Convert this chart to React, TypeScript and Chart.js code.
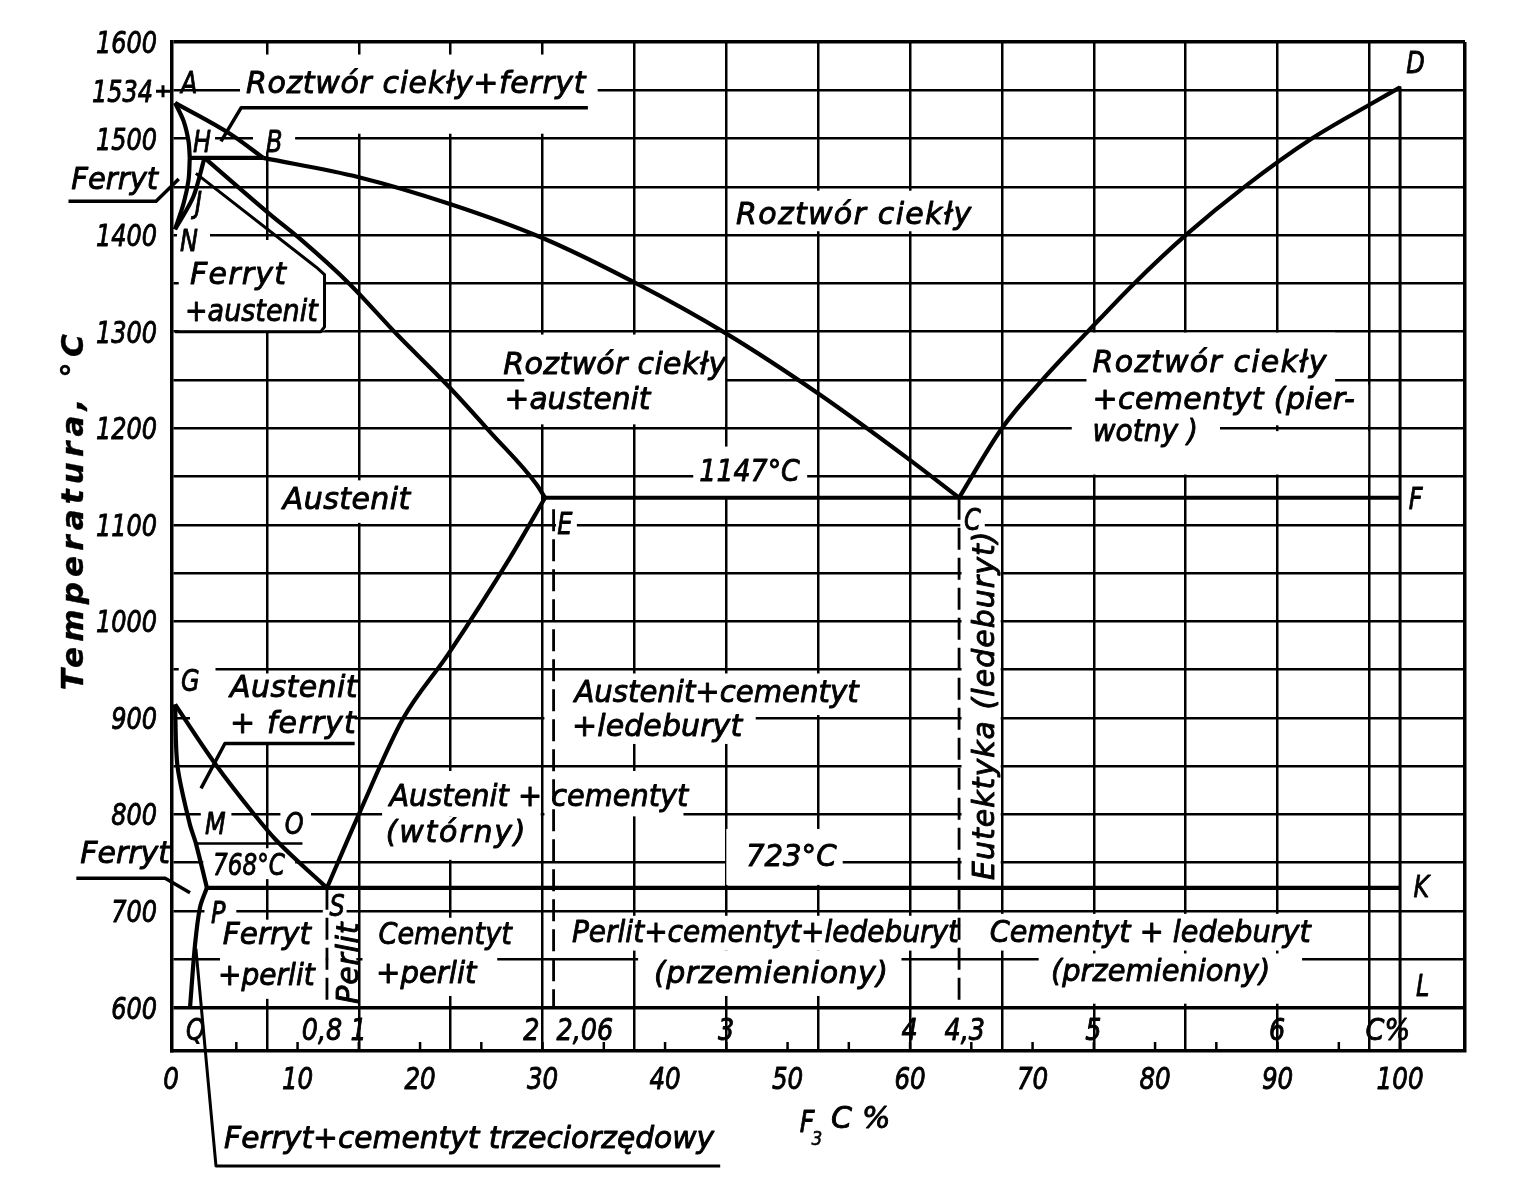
import React, { useEffect, useRef } from 'react';
import { Chart, registerables } from 'chart.js';

Chart.register(...registerables);

type Pt = [number, number];

// ---------- Phase boundaries: [Fe3C %, temperature °C] ----------
const liquidusAB: Pt[] = [[0, 1537], [4.6, 1504], [7.2, 1480]];
const liquidusBC: Pt[] = [[7.2, 1480], [15, 1460], [22.5, 1432], [30, 1397], [37.5, 1351], [45, 1298], [52.5, 1236], [60, 1167], [64, 1128]];
const liquidusCD: Pt[] = [[64, 1128], [67.5, 1200], [70.8, 1250], [74.5, 1300], [78.3, 1350], [82.5, 1400], [87.3, 1450], [92.8, 1500], [97.5, 1535], [100, 1553]];
const solidusAH: Pt[] = [[0, 1537], [0.7, 1518], [1.1, 1497], [1.2, 1480]];
const lineHN: Pt[] = [[1.2, 1480], [1.1, 1457], [0.7, 1433], [0, 1406]];
const lineJN: Pt[] = [[2.4, 1480], [1.5, 1440], [0, 1406]];
const peritecticHJB: Pt[] = [[1.2, 1480], [7.2, 1480]];
const solidusJE: Pt[] = [[2.4, 1480], [7.7, 1422], [10.4, 1394], [14.2, 1350], [18.2, 1296], [22.2, 1245], [25.8, 1195], [29.5, 1142], [30.2, 1128]];
const eutecticECF: Pt[] = [[30.2, 1128], [100, 1128]];
const lineSE: Pt[] = [[12.4, 724], [15.1, 803], [18.6, 899], [22.3, 966], [27.35, 1066], [30.2, 1128]];
const lineGS: Pt[] = [[0, 914], [3.3, 852], [6.4, 801], [8.2, 774], [12.4, 724]];
const lineGP: Pt[] = [[0, 914], [0.2, 850], [1.2, 790], [1.7, 770], [2.6, 724]];
const linePQ: Pt[] = [[2.6, 724], [2.04, 704], [1.63, 665], [1.22, 600]];
const eutectoidPSK: Pt[] = [[2.6, 724], [100, 724]];
const curieMO: Pt[] = [[1.7, 770], [10.4, 770]];
const lineDFKL: Pt[] = [[100, 1553], [100, 555]];
const dashedE: Pt[] = [[30.9, 1116], [30.9, 600]];
const dashedC: Pt[] = [[64, 1128], [64, 600]];
const dashedS: Pt[] = [[12.4, 724], [12.4, 600]];

// ---------- Axes ----------
const xTickValues = [0, 10, 20, 30, 40, 50, 60, 70, 80, 90, 100];
const yTickValues = [600, 700, 800, 900, 1000, 1100, 1200, 1300, 1400, 1500, 1600];
const gridXValues = [7.5, 15, 22.5, 30, 37.5, 45, 52.5, 60, 67.5, 75, 82.5, 90, 97.5];
const gridYValues = [600, 650, 700, 750, 800, 850, 900, 950, 1000, 1050, 1100, 1150, 1200, 1250, 1300, 1350, 1400, 1450, 1500, 1550, 1600];
const stripTickValues = [5, 10, 15, 20, 25, 30, 35, 40, 45, 50, 55, 60, 65, 70, 75, 80, 85, 90, 95, 100];
const carbonValues = [0.8, 1, 2, 2.06, 3, 4, 4.3, 5, 6];
const carbonLabels = ['0,8', '1', '2', '2,06', '3', '4', '4,3', '5', '6'];
const carbonAlign = ['center', 'center', 'right', 'left', 'center', 'center', 'center', 'center', 'center'];
const FE3C_PER_C = 100 / 6.67;

const X_MIN = -0.25;
const X_MAX = 105.3;
const Y_MIN = 555;
const Y_MAX = 1600;

// ---------- Annotation layout (data units) ----------
// white boxes behind region labels: [x1, x2, tLow, tHigh]
const maskRects: number[][] = [
  [5.3, 34.5, 1505, 1587], [1.14, 3.26, 1486, 1512], [6.36, 9.8, 1486, 1512], [0.16, 2.85, 1384, 1412],
  [45.4, 66.4, 1404, 1446], [28.5, 44.9, 1204, 1297], [42.3, 51.6, 1129, 1181], [8.4, 19.7, 1102, 1146],
  [31.1, 32.8, 1090, 1113], [64.1, 66.1, 1089, 1120],
  [74.4, 94.7, 1236, 1299], [74.4, 97.4, 1203, 1245], [73.2, 97.4, 1152, 1197], [73.2, 85.3, 1193, 1208],
  [64.2, 67.4, 727, 1098],
  [30.15, 56.6, 903, 946], [30.15, 47.4, 873, 905],
  [16.9, 29.85, 798, 845], [30.15, 41.5, 798, 845], [16.9, 29.85, 753, 798],
  [45.0, 54.5, 727, 785],
  [1.22, 14.66, 875, 946], [0.3, 3.3, 940, 958],
  [2.1, 4.6, 776, 806], [8.6, 11.1, 775, 804.5], [2.3, 9.8, 733, 765],
  [2.4, 5.0, 685, 711], [12.06, 14.0, 688, 715], [3.67, 12.3, 609, 691], [12.5, 14.8, 604, 696],
  [15.3, 27.9, 659, 693], [15.3, 26.3, 612, 662],
  [30.15, 63.7, 659, 695], [37.8, 59.3, 612, 659],
  [64.5, 93.4, 659, 697], [70.5, 92.0, 604, 656],
];
const calloutMask: Pt[] = [[0.3, 1395], [8.6, 1395], [11.5, 1367], [12.2, 1359], [12.2, 1301], [0.3, 1301]];

const leaders: { pts: Pt[]; w: number }[] = [
  { pts: [[33.7, 1532], [5.4, 1532], [3.75, 1497]], w: 3.5 },
  { pts: [[-8.7, 1435], [-1.55, 1435], [0.3, 1458]], w: 3.5 },
  { pts: [[1.7, 1464], [11.5, 1367], [12.2, 1359], [12.2, 1305], [11.9, 1300], [0, 1300]], w: 3 },
  { pts: [[14.66, 873.5], [4.07, 873.5], [2.12, 827]], w: 3.5 },
  { pts: [[-8.06, 734], [-0.81, 734], [1.22, 719]], w: 3.5 },
  { pts: [[1.7, 661], [3.34, 436], [44.5, 436]], w: 3 },
];

type Label = { t: string; x: number; x2?: number; y: number; y2?: number; rot?: boolean };
const labels: Label[] = [
  { t: 'A', x: 0.49, y: 1547.2 },
  { t: 'Roztwór ciekły+ferryt', x: 5.79, x2: 33.5, y: 1547.2 },
  { t: 'H', x: 1.47, y: 1485.9 },
  { t: 'B', x: 7.42, y: 1485.9 },
  { t: 'Ferryt', x: -8.47, x2: -1.38, y: 1448 },
  { t: 'J', x: 1.63, y: 1422.5 },
  { t: 'N', x: 0.41, y: 1383.7 },
  { t: 'Ferryt', x: 1.22, x2: 9.05, y: 1349.7 },
  { t: '+austenit', x: 0.81, x2: 11.65, y: 1311.4 },
  { t: 'Roztwór ciekły', x: 45.8, x2: 65.0, y: 1412 },
  { t: 'Roztwór ciekły', x: 26.8, x2: 45.0, y: 1256.6 },
  { t: '+austenit', x: 26.9, x2: 38.8, y: 1219.7 },
  { t: '1147°C', x: 42.8, x2: 51.0, y: 1145.6 },
  { t: 'Austenit', x: 8.8, x2: 19.2, y: 1116.6 },
  { t: 'E', x: 31.2, y: 1090.7 },
  { t: 'C', x: 64.4, y: 1094.4 },
  { t: 'F', x: 100.7, y: 1116.6 },
  { t: 'D', x: 100.5, y: 1567.6 },
  { t: 'Roztwór ciekły', x: 74.9, x2: 94.0, y: 1258.3 },
  { t: '+cementyt (pier-', x: 74.9, x2: 96.3, y: 1219.7 },
  { t: 'wotny )', x: 74.9, x2: 83.5, y: 1186.6 },
  { t: 'Eutektyka (ledeburyt)', x: 66.2, y: 732, y2: 1093, rot: true },
  { t: 'Austenit+cementyt', x: 32.6, x2: 55.8, y: 916.3 },
  { t: '+ledeburyt', x: 32.4, x2: 46.3, y: 881.4 },
  { t: 'Austenit + cementyt', x: 17.5, x2: 41.9, y: 808.75 },
  { t: '(wtórny)', x: 17.2, x2: 28.6, y: 771 },
  { t: '723°C', x: 46.6, x2: 54.0, y: 746.1 },
  { t: 'G', x: 0.49, y: 928.3 },
  { t: 'Austenit', x: 4.48, x2: 14.9, y: 922.1 },
  { t: '+ ferryt', x: 4.48, x2: 14.75, y: 884.6 },
  { t: 'M', x: 2.44, y: 779.8 },
  { t: 'O', x: 8.96, y: 779.8 },
  { t: '768°C', x: 3.1, x2: 8.96, y: 737.5 },
  { t: 'Ferryt', x: -7.74, x2: -0.41, y: 749.7 },
  { t: 'P', x: 2.93, y: 687.7 },
  { t: 'S', x: 12.6, y: 694.3 },
  { t: 'Ferryt', x: 3.9, x2: 11.1, y: 666 },
  { t: '+perlit', x: 3.5, x2: 11.4, y: 623.5 },
  { t: 'Perlit', x: 14.3, y: 604, y2: 688, rot: true },
  { t: 'Cementyt', x: 16.6, x2: 27.5, y: 666 },
  { t: '+perlit', x: 16.4, x2: 24.6, y: 625.4 },
  { t: 'Perlit+cementyt+ledeburyt', x: 32.4, x2: 64.0, y: 667.7 },
  { t: '(przemieniony)', x: 39.1, x2: 58.2, y: 625.4 },
  { t: 'Cementyt + ledeburyt', x: 66.5, x2: 92.7, y: 667.7 },
  { t: '(przemieniony)', x: 71.5, x2: 89.4, y: 627.4 },
  { t: 'K', x: 101.1, y: 714.9 },
  { t: 'L', x: 101.3, y: 611.5 },
  { t: 'Q', x: 0.9, y: 566.9 },
  { t: 'Ferryt+cementyt trzeciorzędowy', x: 4.0, x2: 44.0, y: 454.2 },
];

const FONT = 'italic 30px "DejaVu Sans"';
const LETTER_SX = 0.8;

function drawText(ctx: CanvasRenderingContext2D, text: string, x: number, y: number, o: any) {
  ctx.save();
  ctx.font = o.font || FONT;
  (ctx as any).letterSpacing = '0px';
  const nat = ctx.measureText(text).width;
  let sx = o.sx ?? 1;
  let ls = 0;
  if (o.target) {
    if (o.target >= nat) {
      ls = (o.target - nat) / Math.max(1, text.length - 1);
      sx = 1;
    } else {
      sx = o.target / nat;
    }
  }
  (ctx as any).letterSpacing = ls + 'px';
  const wu = nat + ls * (text.length - 1);
  ctx.translate(x, y);
  if (o.rot) ctx.rotate(o.rot);
  ctx.scale(sx, 1);
  ctx.textAlign = 'left';
  ctx.textBaseline = o.baseline || 'alphabetic';
  ctx.fillStyle = '#000';
  ctx.strokeStyle = '#000';
  ctx.lineWidth = o.stroke ?? 0.9;
  ctx.lineJoin = 'round';
  let dx = 0;
  if (o.align === 'center') dx = -wu / 2;
  else if (o.align === 'right') dx = -wu;
  ctx.fillText(text, dx, 0);
  if (ctx.lineWidth > 0) ctx.strokeText(text, dx, 0);
  ctx.restore();
}

const diagramPlugin = {
  id: 'ironCarbon',
  beforeDraw(chart: any) {
    const ctx = chart.ctx;
    ctx.save();
    ctx.fillStyle = '#fff';
    ctx.fillRect(0, 0, chart.width, chart.height);
    ctx.restore();
  },
  beforeDatasetsDraw(chart: any) {
    const ctx = chart.ctx as CanvasRenderingContext2D;
    const xs = chart.scales.x;
    const ys = chart.scales.y;
    ctx.save();
    ctx.fillStyle = '#fff';
    for (const [x1, x2, t1, t2] of maskRects) {
      const a = xs.getPixelForValue(x1);
      const b = xs.getPixelForValue(x2);
      const c = ys.getPixelForValue(t2);
      const d = ys.getPixelForValue(t1);
      ctx.fillRect(a, c, b - a, d - c);
    }
    ctx.beginPath();
    calloutMask.forEach(([x, t], i) => {
      const px = xs.getPixelForValue(x);
      const py = ys.getPixelForValue(t);
      if (i === 0) ctx.moveTo(px, py);
      else ctx.lineTo(px, py);
    });
    ctx.closePath();
    ctx.fill();
    ctx.restore();
  },
  afterDatasetsDraw(chart: any) {
    const ctx = chart.ctx as CanvasRenderingContext2D;
    const xs = chart.scales.x;
    const ys = chart.scales.y;
    const area = chart.chartArea;
    const px = (v: number) => xs.getPixelForValue(v);
    const py = (v: number) => ys.getPixelForValue(v);

    ctx.save();
    ctx.strokeStyle = '#000';
    ctx.lineJoin = 'round';
    ctx.lineCap = 'butt';
    // leader lines
    for (const l of leaders) {
      ctx.lineWidth = l.w;
      ctx.beginPath();
      l.pts.forEach(([x, t], i) => {
        if (i === 0) ctx.moveTo(px(x), py(t));
        else ctx.lineTo(px(x), py(t));
      });
      ctx.stroke();
    }
    // ticks on the bottom edge of the C% strip
    ctx.lineWidth = 2.5;
    for (const v of stripTickValues) {
      ctx.beginPath();
      ctx.moveTo(px(v), area.bottom);
      ctx.lineTo(px(v), area.bottom - 9);
      ctx.stroke();
    }
    // small cross marking 1534 on the temperature axis
    const y1534 = py(1549);
    ctx.lineWidth = 3;
    ctx.beginPath();
    ctx.moveTo(area.left - 16, y1534);
    ctx.lineTo(area.left, y1534);
    ctx.moveTo(area.left - 9, y1534 - 6);
    ctx.lineTo(area.left - 9, y1534 + 6);
    ctx.stroke();
    ctx.restore();

    // region and point labels
    for (const l of labels) {
      if (l.rot) {
        const a = py(l.y);
        const b = py(l.y2 as number);
        drawText(ctx, l.t, px(l.x), (a + b) / 2, {
          rot: -Math.PI / 2, align: 'center', baseline: 'middle', target: Math.abs(a - b),
        });
      } else if (l.x2 !== undefined) {
        drawText(ctx, l.t, px(l.x), py(l.y), { target: px(l.x2) - px(l.x) });
      } else {
        drawText(ctx, l.t, px(l.x), py(l.y), { sx: LETTER_SX });
      }
    }

    // carbon-content labels inside the strip
    carbonValues.forEach((c, i) => {
      const xp = px(c * FE3C_PER_C);
      const al = carbonAlign[i];
      const xx = al === 'right' ? xp - 3 : al === 'left' ? xp + 3 : xp;
      drawText(ctx, carbonLabels[i], xx, py(566.9), { align: al, sx: 0.85 });
    });
    drawText(ctx, 'C%', px(99), py(566.9), { align: 'center', sx: 0.9 });

    // temperature axis labels
    for (const v of yTickValues) {
      drawText(ctx, String(v), area.left - 15, py(v) + 11, { align: 'right', sx: 0.8 });
    }
    drawText(ctx, '1534', area.left - 19, y1534 + 11, { align: 'right', sx: 0.8 });

    // Fe3C % axis labels
    for (const v of xTickValues) {
      drawText(ctx, String(v), px(v) - (v === 0 ? 4 : 0), py(515.3), { align: 'center', sx: 0.82 });
    }

    // axis titles
    drawText(ctx, 'F', px(51.0), py(471.4), { sx: 0.85 });
    drawText(ctx, '3', px(51.95), py(457.6), { font: 'italic 20px "DejaVu Sans"', sx: 0.85, stroke: 0.6 });
    drawText(ctx, 'C%', px(53.55), py(474.9), { target: px(58.4) - px(53.55) });

    drawText(ctx, 'Temperatura, °C', 75, py(1113), {
      font: 'italic bold 31px "DejaVu Sans"', rot: -Math.PI / 2, align: 'center', baseline: 'middle', target: 356, stroke: 0.4,
    });
  },
};

function toXY(pts: Pt[]) {
  return pts.map(([x, y]) => ({ x, y }));
}

function phase(pts: Pt[], extra: any = {}) {
  return {
    data: toXY(pts),
    showLine: true,
    pointRadius: 0,
    pointHoverRadius: 0,
    borderColor: '#000',
    backgroundColor: '#000',
    borderWidth: 4.2,
    borderJoinStyle: 'round',
    tension: 0,
    fill: false,
    ...extra,
  };
}

export default function App() {
  const canvasRef = useRef<HTMLCanvasElement | null>(null);

  useEffect(() => {
    const canvas = canvasRef.current;
    if (!canvas) return;
    const mono = { cubicInterpolationMode: 'monotone' };
    const curve = { tension: 0.3 };
    const dashed = { borderWidth: 2.8, borderDash: [22, 8] };
    const chart = new Chart(canvas, {
      type: 'scatter',
      data: {
        datasets: [
          phase(liquidusAB, mono),
          phase(liquidusBC, mono),
          phase(liquidusCD, mono),
          phase(solidusAH, curve),
          phase(lineHN, curve),
          phase(lineJN, curve),
          phase(peritecticHJB),
          phase(solidusJE, mono),
          phase(eutecticECF),
          phase(lineSE, mono),
          phase(lineGS, mono),
          phase(lineGP, curve),
          phase(linePQ, curve),
          phase(eutectoidPSK),
          phase(curieMO, { borderWidth: 2.5 }),
          phase(lineDFKL, { borderWidth: 3 }),
          phase(dashedE, dashed),
          phase(dashedC, dashed),
          phase(dashedS, dashed),
        ] as any,
      },
      options: {
        responsive: false,
        animation: false,
        devicePixelRatio: 1,
        events: [],
        layout: { padding: { left: 172, top: 42, right: 59, bottom: 129 } },
        plugins: { legend: { display: false }, tooltip: { enabled: false } },
        scales: {
          x: {
            type: 'linear',
            min: X_MIN,
            max: X_MAX,
            afterBuildTicks: (s: any) => {
              s.ticks = [...gridXValues, X_MAX].map((v) => ({ value: v }));
            },
            ticks: { display: false },
            grid: {
              color: '#000',
              lineWidth: (c: any) => (c.tick && c.tick.value > 105 ? 3.5 : 2.5),
              drawTicks: false,
            },
            border: { color: '#000', width: 3.5 },
          },
          y: {
            type: 'linear',
            min: Y_MIN,
            max: Y_MAX,
            afterBuildTicks: (s: any) => {
              s.ticks = gridYValues.map((v) => ({ value: v }));
            },
            ticks: { display: false },
            grid: {
              color: '#000',
              lineWidth: (c: any) => (c.tick && (c.tick.value === 600 || c.tick.value === 1600) ? 3.5 : 2.5),
              drawTicks: false,
            },
            border: { color: '#000', width: 3.5 },
          },
        },
      } as any,
      plugins: [diagramPlugin as any],
    });
    return () => chart.destroy();
  }, []);

  return (
    <div style={{ position: 'absolute', left: 0, top: 0, width: 1524, height: 1180, background: '#fff' }}>
      <canvas ref={canvasRef} width={1524} height={1180} style={{ display: 'block', width: 1524, height: 1180 }} />
    </div>
  );
}
